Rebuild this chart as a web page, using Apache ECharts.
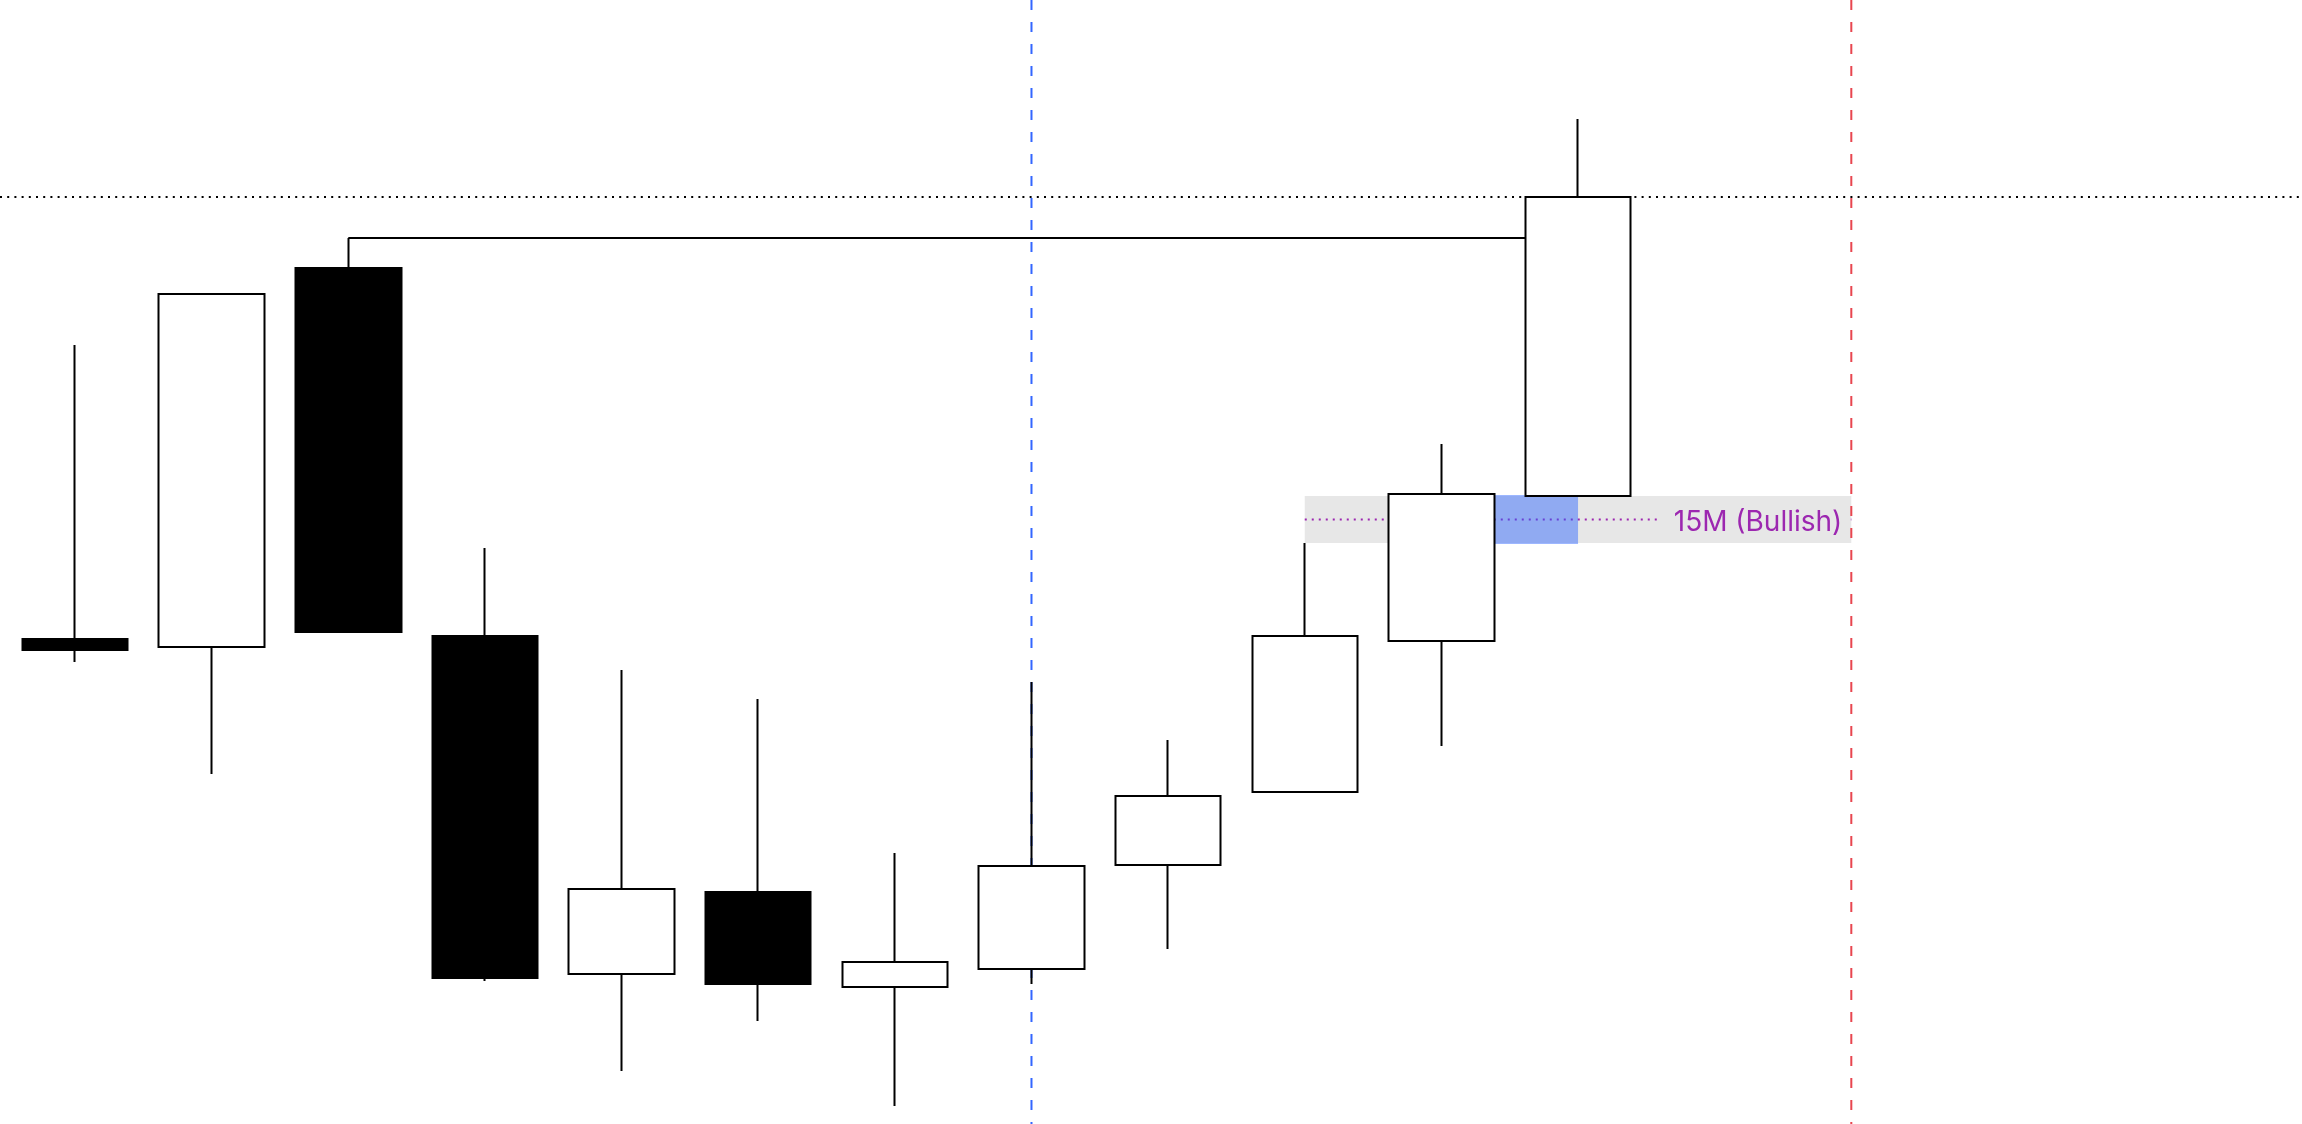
<!DOCTYPE html>
<html>
<head>
<meta charset="utf-8">
<script src="https://cdn.jsdelivr.net/npm/echarts@6/dist/echarts.min.js"></script>
<style>
  html, body { margin: 0; padding: 0; background: #ffffff; }
  #chart { width: 2302px; height: 1124px; }
</style>
</head>
<body>
<div id="chart"></div>
<script>
// ---- data (price units) ----
const categories = ['1', '2', '3', '4', '5', '6', '7', '8', '9', '10', '11', '12', '13', '14', '15', '16'];
const opens  = [485, 477, 856, 488, 150, 232, 137, 155, 259, 332, 483, 628];
const closes = [474, 830, 492, 146, 235, 140, 162, 258, 328, 488, 630, 927];
const lows   = [462, 350, 492, 143,  53, 103,  18, 140, 175, 332, 378, 628];
const highs  = [779, 830, 886, 576, 454, 425, 271, 442, 384, 581, 680, 1005];

const sessionLineIdx = [7, 13];          // vertical dashed session markers (category index)
const highLevel = [2, 11, 886];          // from index, to index, price (swing high level)
const closeLevel = 927;                  // dotted horizontal level
const fvgZone = [9, 13, 581, 628];       // start idx, end idx, bottom, top
const fvgGap  = [10, 11, 581, 628];      // gap box: between candle idx, bottom, top
const fvgLabel = '15M (Bullish)';

// ---- styles ----
const BODY_W = 106;
const sessionColors = ['#3366ff', '#e8464f'];
const PURPLE = '#9c27b0';
const ZONE_GRAY = '#e7e7e7';

const candles = opens.map((o, i) => [o, closes[i], lows[i], highs[i]]);

function renderFvg(params, api) {
  const tl = api.coord([fvgZone[0], fvgZone[3]]);
  const br = api.coord([fvgZone[1], fvgZone[2]]);
  const midY = api.coord([fvgZone[0], (fvgZone[2] + fvgZone[3]) / 2])[1];
  const gtl = api.coord([fvgGap[0], fvgGap[3]]);
  const gbr = api.coord([fvgGap[1], fvgGap[2]]);
  const half = BODY_W / 2;
  return {
    type: 'group',
    children: [
      { type: 'rect', shape: { x: tl[0], y: tl[1], width: br[0] - tl[0], height: br[1] - tl[1] },
        style: { fill: ZONE_GRAY } },
      { type: 'line', shape: { x1: tl[0], y1: midY, x2: br[0], y2: midY },
        style: { stroke: PURPLE, lineWidth: 2, lineDash: [2, 5] } },
      { type: 'rect', shape: { x: gtl[0] + half, y: gtl[1] - 1, width: gbr[0] - gtl[0] - half, height: gbr[1] - gtl[1] + 2 },
        style: { fill: 'rgba(41,98,255,0.46)' } },
      { type: 'text', x: br[0] - 1, y: midY + 3,
        style: { text: fvgLabel, fill: PURPLE, font: '28px Inter', align: 'right', verticalAlign: 'middle',
                 backgroundColor: ZONE_GRAY, padding: [2, 8, 2, 14] } }
    ]
  };
}

function renderLevels(params, api) {
  const W = api.getWidth(), H = api.getHeight();
  const children = [];
  sessionLineIdx.forEach((idx, k) => {
    const x = api.coord([idx, 0])[0];
    children.push({ type: 'line', shape: { x1: x, y1: 0, x2: x, y2: H },
      style: { stroke: sessionColors[k], lineWidth: 2, lineDash: [10, 12] } });
  });
  const yc = api.coord([0, closeLevel])[1];
  children.push({ type: 'line', shape: { x1: 0, y1: yc, x2: W, y2: yc },
    style: { stroke: '#000000', lineWidth: 2, lineDash: [2, 5.2] } });
  const a = api.coord([highLevel[0], highLevel[2]]);
  const b = api.coord([highLevel[1], highLevel[2]]);
  children.push({ type: 'line', shape: { x1: a[0], y1: a[1], x2: b[0], y2: b[1] },
    style: { stroke: '#000000', lineWidth: 2 } });
  return { type: 'group', children };
}

const chart = echarts.init(document.getElementById('chart'), null, { renderer: 'canvas' });
chart.setOption({
  animation: false,
  backgroundColor: '#ffffff',
  grid: { left: 6.7, top: 0, width: 2186.2, height: 1124 },
  xAxis: { type: 'category', data: categories, boundaryGap: true, show: false },
  yAxis: { type: 'value', min: 0, max: 1124, show: false },
  series: [
    { type: 'custom', name: 'FVG', coordinateSystem: 'cartesian2d', z: 1, silent: true,
      data: [[0, 0]], renderItem: renderFvg },
    { type: 'custom', name: 'Levels', coordinateSystem: 'cartesian2d', z: 2, silent: true,
      data: [[0, 0]], renderItem: renderLevels },
    { type: 'candlestick', name: 'Price', z: 10, barWidth: BODY_W, data: candles,
      itemStyle: { color: '#ffffff', color0: '#000000', borderColor: '#000000', borderColor0: '#000000', borderWidth: 2 } }
  ]
});
</script>
</body>
</html>
